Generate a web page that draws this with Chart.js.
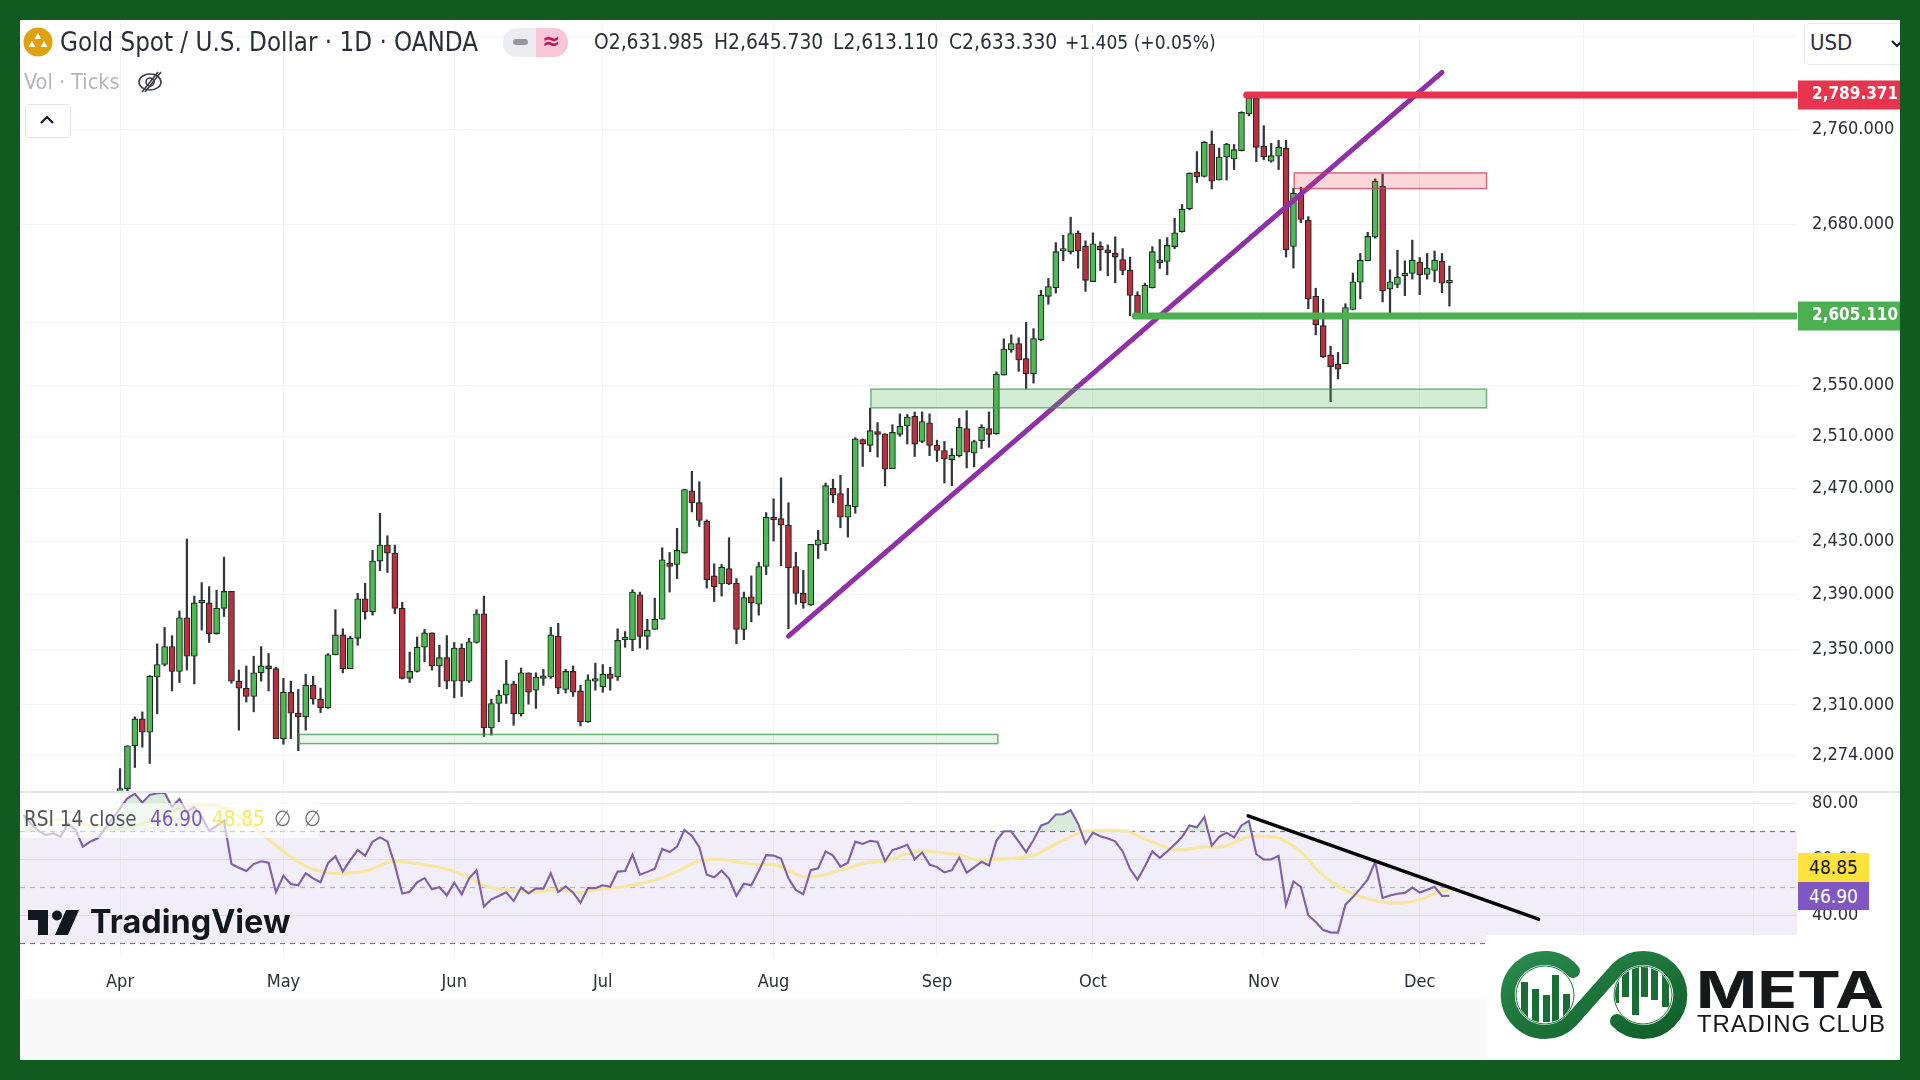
<!DOCTYPE html>
<html>
<head>
<meta charset="utf-8">
<title>Gold Spot / U.S. Dollar</title>
<script src="https://cdn.jsdelivr.net/npm/chart.js@4/dist/chart.umd.js"></script>
<style>
  html, body { margin: 0; padding: 0; background: #115a20; }
  #page { position: relative; width: 1920px; height: 1080px; background: #115a20; overflow: hidden; font-family: "DejaVu Sans Condensed", "DejaVu Sans", sans-serif; }
  #panel { position: absolute; left: 20px; top: 20px; width: 1880px; height: 1040px; background: #fff; overflow: hidden; }
  #footBand { position: absolute; left: 20px; top: 999px; width: 1466px; height: 61px; background: #f8f8f8; }
  #divider { position: absolute; left: 20px; top: 791px; width: 1880px; height: 2px; background: #e3e4e8; z-index: 3; }
  canvas { position: absolute; left: 20px; }
  #priceChart { top: 20px; }
  #rsiChart { top: 792px; }
  .t { position: absolute; white-space: nowrap; line-height: 1; color: #2a2e39; z-index: 5; }
  #usdBtn { position: absolute; left: 1804px; top: 23px; width: 110px; height: 40px; border: 1px solid #e6e8ee; border-radius: 6px; background: #fff; z-index: 4; }
  #frameRight { position: absolute; left: 1900px; top: 0; width: 20px; height: 1080px; background: #115a20; z-index: 6; }
  #collapse { position: absolute; left: 25px; top: 104px; width: 44px; height: 32px; border: 1px solid #e0e3eb; border-radius: 4px; background: #fff; z-index: 4; }
  #pillL { position: absolute; left: 503px; top: 28px; width: 33px; height: 29px; background: #ecedf0; border-radius: 14px 0 0 14px; z-index: 4; }
  #pillR { position: absolute; left: 536px; top: 28px; width: 32px; height: 29px; background: #f8c6d6; border-radius: 0 14px 14px 0; z-index: 4; }
  #pillDash { position: absolute; left: 513px; top: 39px; width: 15px; height: 6px; background: #9598a1; border-radius: 3px; z-index: 5; }
  #rsiLegendBg { position: absolute; left: 20px; top: 803px; width: 298px; height: 35px; background: rgba(255,255,255,.62); z-index: 4; }
  #logoBox { position: absolute; left: 1486px; top: 935px; width: 414px; height: 125px; background: #fff; z-index: 4; }
  svg.abs { position: absolute; z-index: 5; overflow: visible; }
</style>
</head>
<body>
<div id="page">
  <div id="panel"></div>
  <div id="footBand"></div>
  <canvas id="priceChart" width="1880" height="772"></canvas>
  <canvas id="rsiChart" width="1880" height="207"></canvas>
  <div id="divider"></div>

  <svg class="abs" style="left:23px;top:27px" width="30" height="30" viewBox="0 0 30 30">
    <circle cx="15" cy="15" r="14.5" fill="#e0a10e"/>
    <path d="M15 6l3.5 6h-7z M9 14l3.5 6h-7z M21 14l3.5 6h-7z" fill="#fff"/>
  </svg>
  <div class="t" style="left:60px;top:30px;font-size:25.7px">Gold Spot / U.S. Dollar · 1D · OANDA</div>
  <div id="pillL"></div><div id="pillR"></div><div id="pillDash"></div>
  <div class="t" style="left:542px;top:29px;font-size:24px;color:#c2185b;font-weight:bold">≈</div>
  <div class="t" style="left:594px;top:32px;font-size:20.8px">O2,631.985</div>
  <div class="t" style="left:714px;top:32px;font-size:20.8px">H2,645.730</div>
  <div class="t" style="left:833px;top:32px;font-size:20.8px">L2,613.110</div>
  <div class="t" style="left:949px;top:32px;font-size:20.8px">C2,633.330</div>
  <div class="t" style="left:1065px;top:33px;font-size:19px">+1.405 (+0.05%)</div>
  <div class="t" style="left:24px;top:71px;font-size:21.5px;color:#b2b5be">Vol · Ticks</div>
  <svg class="abs" style="left:136px;top:68px" width="28" height="28" viewBox="0 0 28 28" fill="none" stroke="#3a3e4a" stroke-width="1.6">
    <ellipse cx="14" cy="14" rx="11" ry="8"/><circle cx="14" cy="14" r="4"/><path d="M6 24L22 4"/><path d="M9 24L25 4"/>
  </svg>
  <div id="collapse"></div>
  <svg class="abs" style="left:39px;top:114px" width="16" height="12" viewBox="0 0 16 12" fill="none" stroke="#131722" stroke-width="2.2"><path d="M2 9l6-6 6 6"/></svg>
  <div id="usdBtn"></div>
  <div class="t" style="left:1810px;top:32px;font-size:22px">USD</div>
  <svg class="abs" style="left:1890px;top:39px" width="14" height="10" viewBox="0 0 14 10" fill="none" stroke="#131722" stroke-width="2"><path d="M2 2l5 5 5-5"/></svg>

  <div id="rsiLegendBg"></div>
  <div class="t" style="left:24px;top:809px;font-size:20.5px;color:#50535e">RSI 14 close</div>
  <div class="t" style="left:150px;top:809px;font-size:20.5px;color:#7e57c2">46.90</div>
  <div class="t" style="left:212px;top:809px;font-size:20.5px;color:#f5e96b">48.85</div>
  <div class="t" style="left:274px;top:808px;font-size:22px;color:#6a6d78">∅&nbsp; ∅</div>

  <svg class="abs" style="left:28px;top:910px" width="52" height="26" viewBox="0 0 52 26" fill="#131722">
    <path d="M0 0h20v25h-10v-15h-10z"/><circle cx="29" cy="5.5" r="5"/><path d="M38 0h13l-11 25h-13z"/>
  </svg>
  <div class="t" style="left:90px;top:906px;font-size:32.4px;font-weight:700;font-family:Inter,sans-serif;color:#131722;text-shadow:0 0 3px #fff">TradingView</div>

  <div class="t" style="left:1798px;top:853px;width:71px;height:29px;background:#ffe23d;font-size:19px;line-height:29px;text-align:center;color:#131722">48.85</div>
  <div class="t" style="left:1798px;top:882px;width:71px;height:28px;background:#7e57c2;font-size:19px;line-height:28px;text-align:center;color:#fff">46.90</div>

  <div id="logoBox"></div>
  <svg class="abs" style="left:0;top:0" width="1920" height="1080" viewBox="0 0 1920 1080">
    <defs>
      <linearGradient id="ringGrad" x1="0" y1="0" x2="1" y2="1">
        <stop offset="0" stop-color="#2b8a4e"/><stop offset="1" stop-color="#0f5f28"/>
      </linearGradient>
      <clipPath id="leftDisc"><circle cx="1545" cy="995" r="28"/></clipPath>
      <clipPath id="rightDisc"><circle cx="1643" cy="995" r="28"/></clipPath>
    </defs>
    <circle cx="1545" cy="995" r="29" fill="#fff" stroke="#1a7a3c" stroke-width="1"/>
    <circle cx="1643" cy="995" r="29" fill="#fff" stroke="#1a7a3c" stroke-width="1"/>
    <g clip-path="url(#leftDisc)" fill="#1a6e35">
      <rect x="1521" y="982" width="7" height="40"/><rect x="1532" y="989" width="7" height="33"/><rect x="1543" y="995" width="7" height="27"/>
      <rect x="1552" y="975" width="7" height="47"/><rect x="1563" y="994" width="7" height="28"/><rect x="1573" y="987" width="7" height="35"/>
    </g>
    <g clip-path="url(#rightDisc)" fill="#1a6e35">
      <rect x="1612" y="965" width="7" height="38"/><rect x="1622" y="965" width="7" height="32"/><rect x="1632" y="965" width="7" height="50"/>
      <rect x="1641" y="965" width="7" height="32"/><rect x="1651" y="965" width="7" height="35"/><rect x="1662" y="965" width="7" height="42"/>
    </g>
    <path d="M1573 971A37 37 0 1 0 1571 1021L1617 969A37 37 0 1 1 1617 1021" fill="none" stroke="url(#ringGrad)" stroke-width="14" stroke-linecap="round"/>
    <text x="1696" y="1008" font-family="Inter, sans-serif" font-weight="700" font-size="51" fill="#17181a" textLength="188" lengthAdjust="spacingAndGlyphs">META</text>
    <text x="1697" y="1032" font-family="Liberation Sans Narrow, Liberation Sans, sans-serif" font-size="24" fill="#17181a" textLength="188" lengthAdjust="spacing">TRADING CLUB</text>
  </svg>

  <div class="t" style="left:0;top:0;width:1920px;height:20px;background:#115a20"></div>
  <div id="frameRight"></div>
</div>

<script>
// Daily candles, bar 0 is the first trading day of April
const opens = [
  2233,2251,2281,2300,2290.6,2330,2339,2352,2334,2373,
  2345,2384,2384,2361.5,2380,2392.5,2327,2322,2316,2333,
  2338,2336,2286,2319,2304,2301.5,2324,2314,2308,2346,
  2360.5,2336,2358,2387,2377.5,2415,2427,2421,2380,2329,
  2334,2351.5,2362,2338,2344,2327,2351,2327,2355,2376,
  2293.6,2311,2317,2325,2303.6,2333,2320.5,2329,2330,2359.5,
  2321,2334,2320,2298,2327,2323,2332,2330,2357,2357,
  2390,2359.5,2364.5,2372,2413.5,2412.5,2421,2468,2459,2445,
  2404,2398,2409.5,2398.5,2364.5,2388.5,2383,2411,2448,2447,
  2442,2411,2391,2382.5,2427,2428,2470,2466,2448,2456,
  2507.5,2503,2513.7,2512,2485,2511.5,2518,2525.7,2506,2520.5,
  2503,2499,2492,2495,2516,2497,2506.7,2516,2512,2558,
  2578,2583,2571,2559,2586,2621,2628,2658,2657.5,2672.7,
  2662,2633,2662,2659,2656,2651,2642.3,2622,2607,2628,
  2648.5,2649.4,2661.6,2674,2693,2723.7,2720,2747.4,2717,2736.4,
  2734.7,2741.8,2773,2786.6,2745.4,2732.8,2737,2743.7,2661.7,2704.4,
  2683.4,2621,2597.4,2574,2566.6,2567,2610.4,2632.5,2650,2669.6,
  2711.7,2627,2630.6,2637.7,2639.6,2649,2638.8,2642,2649.7,2631.985
];
const highs = [
  2265,2281,2301.5,2305,2331,2354,2366,2360,2378,2431.5,
  2389,2399,2396,2393.4,2418,2392.5,2335,2338,2345,2352,
  2347,2337,2329,2327,2321,2332,2330.5,2322,2347,2379,
  2365,2359.5,2391,2398.5,2423,2451,2434,2427,2384.5,2348,
  2359,2364.5,2362,2353,2360,2355,2354,2358,2379,2389,
  2314,2320.5,2342,2327,2336.5,2333,2333,2335.5,2366,2369,
  2335.5,2338,2324,2331.5,2340,2339,2337,2365,2363,2393.7,
  2392,2372,2387.5,2425,2421.5,2439.6,2469.3,2483,2475,2446,
  2413,2412.5,2432.5,2402,2392,2404,2414,2451.5,2462,2478,
  2459,2421.5,2408,2427.5,2438,2474,2477,2480,2470,2509,
  2508,2532,2520.7,2512,2519,2527.5,2527,2529,2529,2527.5,
  2507,2506,2500.5,2524,2530,2507,2519,2529,2560.5,2586.8,
  2590,2587.6,2600,2595,2626,2635.5,2665,2671,2686,2674.6,
  2666.4,2673,2665.6,2663,2669.7,2660,2653,2624.7,2631.7,2661.6,
  2667.5,2669,2685,2696.5,2723,2741,2749.5,2758.6,2744,2748,
  2747,2775,2789,2789.4,2763,2748,2750.5,2750.5,2710,2711,
  2686.4,2627.6,2618.6,2581,2576,2615,2640,2656,2673.4,2718,
  2722,2642.6,2658.7,2650,2667,2652.7,2656,2658,2656,2645.73
];
const lows = [
  2228,2249,2265.7,2280,2268.5,2303.6,2338,2320,2326,2335,
  2325,2364,2355,2361,2374,2325.5,2292,2312,2305,2327,
  2320,2286,2282,2286,2277.5,2292,2310.5,2304.5,2307.5,2346,
  2333,2336,2353,2372,2375,2408,2406.5,2376,2328.5,2326,
  2333.5,2341,2335,2323,2321.5,2315,2316,2326,2354.5,2287.5,
  2288.5,2298,2311,2295.5,2302,2310.5,2307.5,2324,2329,2318,
  2318.5,2316,2295,2297.5,2320.5,2319,2320.5,2327.5,2351.5,2349,
  2351,2350,2364.5,2372,2392,2402,2421,2452,2441,2395,
  2385,2389,2397.5,2354,2357,2370,2375,2405,2430,2411.5,
  2365,2383,2380,2382,2417,2423,2459,2440,2433,2451,
  2486.7,2498,2494,2471.8,2485,2510,2504,2494.4,2505,2495,
  2490.5,2474,2472,2494,2485.6,2486.4,2500.5,2501.5,2511.5,2558,
  2576,2561,2547,2551.6,2585.4,2614.6,2623.6,2650,2655.6,2644,
  2625,2633,2642,2637.7,2632,2638.5,2605.4,2606,2605.2,2627.7,
  2643.7,2638.5,2660,2673.5,2692,2714.9,2719.5,2709.5,2717,2717,
  2725.8,2741.5,2771.5,2732.5,2734,2732,2725.8,2653,2644,2681.4,
  2611,2590,2572,2537,2555,2567,2610,2619,2650,2668.5,
  2616.4,2605.5,2628,2621.6,2635,2622.4,2635,2632.8,2624,2613.11
];
const closes = [
  2251,2281,2300,2290.6,2330.5,2339,2352,2334,2373,2345,
  2384,2384.3,2361.5,2380,2392.5,2327,2322,2316,2333,2338,
  2336,2286,2319,2304,2301.5,2324,2314,2308,2346,2360.5,
  2336,2358,2387,2377.5,2415,2427,2421,2380,2329,2334,
  2351.5,2362,2338,2344,2327,2351,2327,2355.5,2376,2293.6,
  2311,2317,2325,2303.6,2333,2319,2330,2329.3,2360.5,2322,
  2334,2319,2298,2328,2327.3,2332,2329,2356.5,2357.3,2392,
  2359.5,2364,2372,2416,2411,2423,2469,2459,2445.5,2401,
  2396,2410.5,2398,2364.5,2388,2384,2411,2448,2446,2442,
  2410,2391,2384,2427.5,2431,2472,2465,2448,2457,2508,
  2504,2514.4,2511.5,2484.6,2513,2517.8,2525,2504,2521.5,2503,
  2499,2492.5,2495.4,2517,2497.7,2506,2517,2511.5,2558.7,2578.6,
  2583,2570,2559,2587,2622,2629,2657.5,2658.3,2672.4,2658,
  2634,2664,2659,2656.7,2653,2642,2621.7,2607.3,2630,2657.5,
  2648.8,2662.6,2673,2692.6,2722.8,2719.5,2749,2716,2736.4,2747.4,
  2742.6,2774.4,2787,2744.6,2736.4,2737.5,2744.6,2659,2706,2684,
  2619,2598,2572.4,2564.7,2562.6,2612,2632.8,2650.5,2670,2716,
  2625.4,2632.8,2636.6,2638,2650.5,2638.5,2644,2650.5,2631.7,2633.33
];

// RSI starts 13 bars before the first candle shown in the price pane
const rsiFirstBar = -13;
const rsiValues = [
  75.7,72.7,70.1,68.6,69.2,68.0,72.7,70.4,64.4,66.2,67.4,71.0,74.5,
  78.1,81.7,83.3,80.1,82.9,83.5,83.7,78.7,81.4,76.9,
  78.5,75.1,70.1,71.8,73.7,58.2,56.9,55.7,58.2,59.2,
  58.7,48.2,54.0,51.1,50.6,54.9,53.1,51.7,58.5,61.0,
  55.6,59.6,63.2,61.2,66.2,67.7,66.3,57.9,47.7,48.3,
  51.7,53.2,49.2,49.9,47.0,51.5,47.4,53.1,56.0,43.0,
  45.6,46.8,48.1,45.0,49.8,47.7,49.5,49.4,54.9,48.2,
  50.2,48.0,44.4,49.6,49.6,50.6,50.1,55.5,55.7,61.5,
  54.4,55.4,56.5,63.6,62.5,64.4,70.4,68.2,64.2,54.4,
  53.5,55.8,53.0,46.8,51.2,50.6,55.7,61.4,61.2,60.2,
  53.1,48.9,47.5,56.0,56.7,62.7,61.2,57.3,58.7,66.2,
  65.4,66.5,66.1,59.2,63.2,64.0,65.1,59.9,62.3,58.0,
  57.1,55.2,56.0,60.5,55.1,57.0,59.0,57.7,66.5,69.9,
  69.9,66.2,62.5,66.8,71.9,73.0,75.9,76.0,77.4,72.6,
  65.5,69.4,68.1,67.3,66.3,62.7,56.4,52.6,57.4,62.7,
  60.4,62.7,65.2,67.9,72.0,71.3,75.0,64.8,67.9,69.4,
  67.7,72.0,73.6,61.7,59.8,59.8,61.1,43.5,52.0,50.0,
  39.9,37.5,34.6,33.8,33.7,43.7,46.4,49.4,52.7,59.0,
  46.1,47.0,47.6,47.9,49.8,48.0,49.0,50.1,46.8,46.9
];

// RSI moving average, read at the bends of the yellow line
const rsiMaBars = [
  -12.6,-10.8,-8.1,-4.5,-1.3,0.4,3.1,5.4,8.1,11,13.5,15.7,18,20.6,23.3,25.6,27.8,30,33.2,36.4,
  38.2,40.4,43.5,46.7,49.4,51.6,56.1,59.2,61.9,64.6,67.8,71.8,75,77.7,80.3,83,85.7,88.4,90.2,92,
  94.7,98.3,100.5,103.2,105.5,107.7,110.4,113.1,115.3,118,121.6,123.4,126.3,129.4,130.5,135.5,138.2,142.1,145.9,148.7,
  151.9,154.7,156.2,159,161.7,164.5,167.2,170,172.7,175.5,177.4,179
];
const rsiMaValues = [
  69.8,72.1,74.2,72.2,70.9,71.0,72.7,75.7,78.1,79.3,78.7,75.7,71.5,65.6,60.2,56.7,55.1,54.9,55.8,59.0,
  59.0,58.2,56.7,53.7,50.1,49.2,48.2,49.2,48.0,49.2,50.1,52.3,55.5,59.0,60.0,59.0,58.0,57.9,55.5,53.7,
  54.3,57.0,58.7,59.4,61.4,62.9,62.3,61.4,59.7,59.9,60.6,61.7,65.8,69.6,70.0,69.9,66.9,63.3,64.3,64.5,
  67.9,67.9,67.3,62.5,54.8,49.4,46.4,44.6,44.3,45.8,48.2,48.85
];

// Axis ticks
const monthBars = [0, 22, 45, 65, 88, 110, 131, 154, 175, 197, 220];
const monthLabels = ['Apr', 'May', 'Jun', 'Jul', 'Aug', 'Sep', 'Oct', 'Nov', 'Dec', '', ''];
const priceTicks = [2274, 2310, 2350, 2390, 2430, 2470, 2510, 2550, 2600, 2680, 2760, 2840];
const hiddenPriceTicks = [2600, 2840];
const rsiTicks = [40, 60, 80];
const rsiLevels = [30, 50, 70];

// Drawn levels, zones and trend lines
const resistancePrice = 2789.371;
const resistanceBars = [151.7, 225.8];
const supportPrice = 2605.11;
const supportBars = [136.7, 225.8];
const trendBars = [90, 178];
const trendPrices = [2359.7, 2809];
const rsiTrendBars = [151.9, 191];
const rsiTrendValues = [75.4, 38.5];
const zoneStarts = [158.1, 101.1, 24.1];
const zoneEnds = [184, 184, 118.2];
const zoneLows = [2709.8, 2532.2, 2282.5];
const zoneHighs = [2723, 2546.9, 2289];
const zoneKinds = ['red', 'green', 'pale'];

const green = '#4dbb53';
const red = '#bb3040';
const gridColor = '#f1f3f7';
const axisFont = { family: '"DejaVu Sans Condensed", "DejaVu Sans", sans-serif', size: 18 };
const barRange = { min: -13.47, max: 225.8 };
const zoneFills = { red: 'rgba(242,54,69,0.2)', green: 'rgba(76,175,80,0.25)', pale: 'rgba(76,175,80,0.13)' };
const zoneBorders = { red: 'rgba(190,70,90,0.75)', green: 'rgba(70,150,80,0.7)', pale: 'rgba(70,150,80,0.75)' };

const bars = opens.map((o, i) => i);

// Function to pair two arrays into {x, y} points
function toPoints(xs, ys) {
  return xs.map((x, i) => ({ x: x, y: ys[i] }));
}

// Function to set the fixed widths of the axes, the page layout depends on them
function fixAxisWidth(scale) {
  scale.width = 103;
  scale.paddingTop = 0;
  scale.paddingBottom = 0;
}
function fixAxisHeight(height) {
  return scale => {
    scale.height = height;
    scale.paddingLeft = 0;
    scale.paddingRight = 0;
  };
}

// Supply/demand boxes, drawn over the candles
const zonePlugin = {
  id: 'zones',
  afterDatasetsDraw(chart) {
    const { ctx, scales: { x, y } } = chart;
    ctx.save();
    zoneStarts.forEach((start, i) => {
      const left = x.getPixelForValue(start);
      const right = x.getPixelForValue(zoneEnds[i]);
      const top = y.getPixelForValue(zoneHighs[i]);
      const bottom = y.getPixelForValue(zoneLows[i]);
      ctx.fillStyle = zoneFills[zoneKinds[i]];
      ctx.strokeStyle = zoneBorders[zoneKinds[i]];
      ctx.lineWidth = 1.5;
      ctx.fillRect(left, top, right - left, bottom - top);
      ctx.strokeRect(left, top, right - left, bottom - top);
    });
    ctx.restore();
  }
};

// Price tags on the right axis
const priceTagPlugin = {
  id: 'priceTags',
  afterDraw(chart) {
    const { ctx, scales: { y }, chartArea } = chart;
    const tags = [[resistancePrice, '#e8344e'], [supportPrice, '#4caf50']];
    ctx.save();
    tags.forEach(tag => {
      const py = y.getPixelForValue(tag[0]);
      ctx.fillStyle = tag[1];
      ctx.fillRect(chartArea.right + 1, py - 14.5, 103, 29);
      ctx.fillStyle = '#fff';
      ctx.font = 'bold 17px ' + axisFont.family;
      ctx.textBaseline = 'middle';
      ctx.fillText(tag[0].toLocaleString('en-US', { minimumFractionDigits: 3, maximumFractionDigits: 3 }), chartArea.right + 15, py);
    });
    ctx.restore();
  }
};

// RSI band and its dashed levels
const rsiBandPlugin = {
  id: 'rsiBand',
  beforeDatasetsDraw(chart) {
    const { ctx, scales: { y }, chartArea } = chart;
    const top = y.getPixelForValue(rsiLevels[2]);
    const bottom = y.getPixelForValue(rsiLevels[0]);
    ctx.save();
    ctx.fillStyle = 'rgba(126,87,194,0.1)';
    ctx.fillRect(chartArea.left, top, chartArea.width, bottom - top);
    ctx.lineWidth = 1.2;
    ctx.setLineDash([5, 5]);
    rsiLevels.forEach(level => {
      const py = Math.round(y.getPixelForValue(level)) + 0.5;
      ctx.strokeStyle = level === 50 ? '#b4b5bd' : '#787b86';
      ctx.beginPath();
      ctx.moveTo(chartArea.left, py);
      ctx.lineTo(chartArea.right, py);
      ctx.stroke();
    });
    ctx.restore();
  }
};

const priceChart = new Chart(document.getElementById('priceChart'), {
  type: 'bar',
  data: {
    datasets: [
      {
        type: 'line',
        data: toPoints(trendBars, trendPrices),
        borderColor: '#9030a8',
        borderWidth: 5,
        borderCapStyle: 'round',
        pointRadius: 0,
        order: 2
      },
      {
        type: 'line',
        data: toPoints(resistanceBars, [resistancePrice, resistancePrice]),
        borderColor: '#e8344e',
        borderWidth: 7,
        borderCapStyle: 'round',
        pointRadius: 0,
        order: 1
      },
      {
        type: 'line',
        data: toPoints(supportBars, [supportPrice, supportPrice]),
        borderColor: '#4caf50',
        borderWidth: 7,
        borderCapStyle: 'round',
        pointRadius: 0,
        order: 1
      },
      {
        // candle wicks
        data: bars.map(i => ({ x: i, y: [lows[i], highs[i]] })),
        backgroundColor: '#33363a',
        borderWidth: 0,
        barThickness: 1.6,
        grouped: false,
        order: 4
      },
      {
        // candle bodies
        data: bars.map(i => ({ x: i, y: [opens[i], closes[i]] })),
        backgroundColor: bars.map(i => (closes[i] >= opens[i] ? green : red)),
        borderColor: '#1c2a20',
        borderWidth: 1.1,
        borderSkipped: false,
        barThickness: 6,
        minBarLength: 2.5,
        grouped: false,
        order: 3
      }
    ]
  },
  options: {
    responsive: false,
    animation: false,
    devicePixelRatio: 1,
    layout: { padding: 0 },
    plugins: { legend: { display: false }, tooltip: { enabled: false } },
    scales: {
      x: {
        type: 'linear',
        min: barRange.min,
        max: barRange.max,
        offset: false,
        border: { display: false },
        grid: { color: gridColor, offset: false, drawTicks: false },
        ticks: { display: false },
        afterBuildTicks: scale => { scale.ticks = monthBars.map(v => ({ value: v })); },
        afterFit: fixAxisHeight(0)
      },
      y: {
        type: 'logarithmic',
        position: 'right',
        min: 2248.6,
        max: 2854.8,
        border: { display: false },
        grid: { color: gridColor, drawTicks: false },
        ticks: {
          autoSkip: false,
          padding: 15,
          color: '#2a2e39',
          font: axisFont,
          callback: v => (hiddenPriceTicks.includes(v) ? '' : v.toLocaleString('en-US', { minimumFractionDigits: 3, maximumFractionDigits: 3 }))
        },
        afterBuildTicks: scale => { scale.ticks = priceTicks.map(v => ({ value: v })); },
        afterFit: fixAxisWidth
      }
    }
  },
  plugins: [zonePlugin, priceTagPlugin]
});

const rsiChart = new Chart(document.getElementById('rsiChart'), {
  type: 'line',
  data: {
    datasets: [
      {
        data: toPoints(rsiTrendBars, rsiTrendValues),
        borderColor: '#050505',
        borderWidth: 3.5,
        borderCapStyle: 'round',
        pointRadius: 0,
        order: 1
      },
      {
        data: rsiValues.map((v, i) => ({ x: rsiFirstBar + i, y: v })),
        borderColor: '#7e5fa8',
        borderWidth: 2.1,
        pointRadius: 0,
        fill: { target: { value: 70 }, above: 'rgba(76,175,80,0.22)', below: 'rgba(0,0,0,0)' },
        order: 2
      },
      {
        data: toPoints(rsiMaBars, rsiMaValues),
        borderColor: '#f5e79e',
        borderWidth: 3.2,
        pointRadius: 0,
        tension: 0.3,
        order: 3
      }
    ]
  },
  options: {
    responsive: false,
    animation: false,
    devicePixelRatio: 1,
    layout: { padding: 0 },
    plugins: { legend: { display: false }, tooltip: { enabled: false } },
    scales: {
      x: {
        type: 'linear',
        min: barRange.min,
        max: barRange.max,
        border: { display: false },
        grid: { color: gridColor, drawTicks: false },
        ticks: {
          autoSkip: false,
          maxRotation: 0,
          padding: 15,
          color: '#2a2e39',
          font: axisFont,
          callback: (v, i) => monthLabels[i]
        },
        afterBuildTicks: scale => { scale.ticks = monthBars.map(v => ({ value: v })); },
        afterFit: fixAxisHeight(42)
      },
      y: {
        position: 'right',
        min: 25,
        max: 83.93,
        border: { display: false },
        grid: { color: '#e9e9ef', drawTicks: false },
        ticks: {
          autoSkip: false,
          padding: 15,
          color: '#2a2e39',
          font: axisFont,
          callback: v => v.toFixed(2)
        },
        afterBuildTicks: scale => { scale.ticks = rsiTicks.map(v => ({ value: v })); },
        afterFit: fixAxisWidth
      }
    }
  },
  plugins: [rsiBandPlugin]
});
</script>
</body>
</html>
